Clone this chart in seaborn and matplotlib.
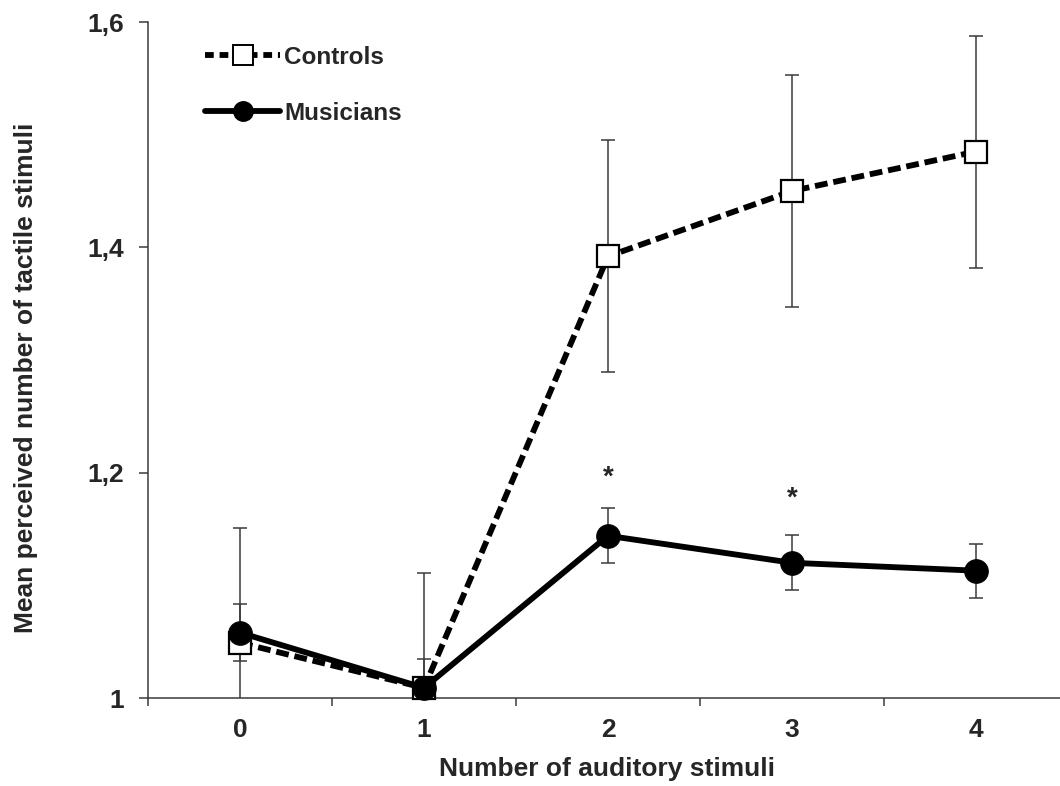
import numpy as np
import pandas as pd
import matplotlib
matplotlib.use("Agg")
import matplotlib.pyplot as plt
from matplotlib.lines import Line2D
from matplotlib.ticker import FixedLocator
import seaborn as sns

# ---- data ----
stimuli = [0, 1, 2, 3, 4]
tick_labels = ["0", "1", "2", "3", "4"]
controls = [1.049, 1.009, 1.392, 1.450, 1.485]
controls_err = [0.102, 0.102, 0.103, 0.103, 0.103]
musicians = [1.058, 1.009, 1.144, 1.120, 1.113]
musicians_err = [0.025, 0.026, 0.0245, 0.0245, 0.024]
y_ticks = [1.0, 1.2, 1.4, 1.6]
y_tick_labels = ["1", "1,2", "1,4", "1,6"]
signif_x = [2, 3]
signif_y = [1.200, 1.181]

sns.set_style("white")
plt.rcParams["font.family"] = ["Liberation Sans", "DejaVu Sans"]
plt.rcParams["font.weight"] = "bold"

W, H = 1060, 786
fig = plt.figure(figsize=(W / 100, H / 100), dpi=100)
ax = fig.add_axes([148 / W, 1 - 698 / H, (1068 - 148) / W, (698 - 22) / H])

df_c = pd.DataFrame({"x": stimuli, "y": controls})
df_m = pd.DataFrame({"x": stimuli, "y": musicians})

lw = 4.2
axis_col = "#3a3a3a"
# error bars (behind)
ax.errorbar(stimuli, controls, yerr=controls_err, fmt="none", ecolor=axis_col,
            elinewidth=1.1, capsize=5, capthick=1.1, zorder=1, clip_on=True)
ax.errorbar(stimuli, musicians, yerr=musicians_err, fmt="none", ecolor=axis_col,
            elinewidth=1.1, capsize=5, capthick=1.1, zorder=1, clip_on=True)

sns.lineplot(data=df_c, x="x", y="y", ax=ax, color="black", linewidth=lw,
             marker="s", markersize=16, markerfacecolor="white",
             markeredgecolor="black", markeredgewidth=1.6, zorder=3)
ax.lines[-1].set_dashes((2.2, 1.0))
ax.lines[-1].set_clip_on(False)
sns.lineplot(data=df_m, x="x", y="y", ax=ax, color="black", linewidth=lw,
             marker="o", markersize=17, markerfacecolor="black",
             markeredgecolor="black", zorder=4)
ax.lines[-1].set_clip_on(False)

for xs, ys in zip(signif_x, signif_y):
    ax.annotate("*", xy=(xs, ys), xytext=(0, -5), textcoords="offset pixels",
                ha="center", va="center", fontsize=20, fontweight="bold")

ax.set_xlim(-0.5, 4.5)
ax.set_ylim(1.0, 1.6)
ax.set_xticks(stimuli)
ax.set_xticklabels(tick_labels)
ax.xaxis.set_minor_locator(FixedLocator([-0.5, 0.5, 1.5, 2.5, 3.5]))
ax.tick_params(axis="x", which="major", length=0, pad=14.6, labelsize=19)
ax.tick_params(axis="x", which="minor", length=6, width=1.1, direction="out", color=axis_col, bottom=True)
ax.set_yticks(y_ticks)
ax.set_yticklabels(y_tick_labels)
ax.tick_params(axis="y", which="major", length=6.5, width=1.1, direction="out", color=axis_col, left=True, pad=11, labelsize=19)

for s in ["top", "right"]:
    ax.spines[s].set_visible(False)
for s in ["left", "bottom"]:
    ax.spines[s].set_color(axis_col)
    ax.spines[s].set_linewidth(1.1)

ax.set_xlabel("Number of auditory stimuli", fontsize=19, fontweight="bold")
ax.set_ylabel("Mean perceived number of tactile stimuli", fontsize=19, fontweight="bold")
ax.xaxis.set_label_coords(0.499, -0.088)
ax.yaxis.set_label_coords(-0.1195, 0.473)

handles = [
    Line2D([], [], color="black", lw=lw, dashes=(1.5, 1.0), marker="s", markersize=14,
           markerfacecolor="white", markeredgecolor="black", markeredgewidth=1.4),
    Line2D([], [], color="black", lw=lw, marker="o", markersize=14, markerfacecolor="black"),
]
leg = ax.legend(handles, ["Controls", "Musicians"], loc="upper left",
                bbox_to_anchor=(205 / W, 1 - 46 / H), bbox_transform=fig.transFigure,
                frameon=False, fontsize=17.5, handlelength=3.1, handletextpad=0.15,
                labelspacing=1.34, borderpad=0, borderaxespad=0)
for t in leg.get_texts():
    t.set_fontweight("bold")

fig.savefig("out.png", dpi=100)
